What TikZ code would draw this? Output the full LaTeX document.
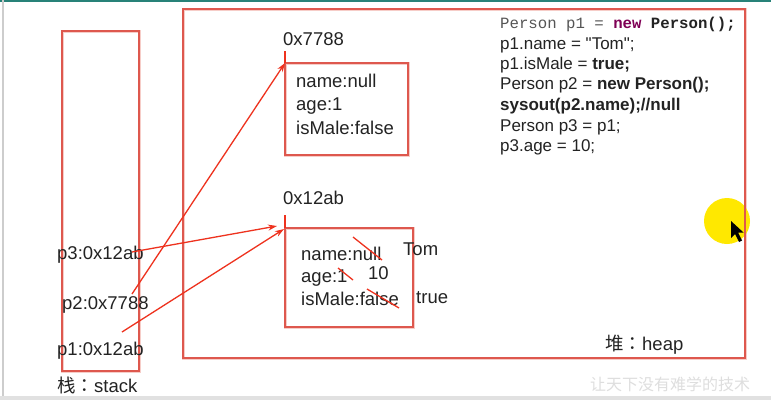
\documentclass[tikz,border=0pt]{standalone}
\usepackage{fontspec}
\setmainfont{Liberation Sans}
\newfontfamily\cjkfont{Noto Sans CJK SC}
\newfontfamily\cjkpunct{Noto Sans CJK JP}
\newfontfamily\codemono{Liberation Mono}
\usetikzlibrary{arrows.meta}
\definecolor{boxred}{RGB}{222,88,78}
\definecolor{boxglow}{RGB}{246,205,200}
\definecolor{arrowred}{RGB}{238,50,30}
\definecolor{ink}{RGB}{35,35,35}
\definecolor{codegray}{RGB}{85,85,85}
\definecolor{keyword}{RGB}{127,0,85}
\definecolor{marker}{RGB}{255,232,0}
\definecolor{framegray}{RGB}{205,205,205}
\definecolor{frameteal}{RGB}{40,130,120}
\definecolor{watermark}{RGB}{222,222,222}
\tikzset{
  region/.style={draw=boxglow, line width=3pt, postaction={draw=boxred, line width=1.2pt}},
  label/.style={inner sep=0pt, anchor=base west, text=ink, font=\fontsize{18.5}{20}\selectfont},
  codeline/.style={inner sep=0pt, anchor=base west, text=ink, font=\fontsize{17}{19}\selectfont},
  ref/.style={draw=arrowred, line width=1.3pt, -{Stealth[length=9pt,width=6pt]}},
  tick/.style={draw=arrowred, line width=1.2pt},
  strike/.style={draw=arrowred, line width=1.3pt},
}
\begin{document}
\begin{tikzpicture}[x=1pt,y=-1pt]
  \useasboundingbox (0,0) rectangle (771,400);
  \fill[white] (0,0) rectangle (771,400);
  % screen frame
  \fill[frameteal] (0,0) rectangle (771,1.5);
  \fill[framegray] (2,0) rectangle (3.5,400);
  \fill[framegray!60] (0,396) rectangle (771,400);

  % stack and heap areas
  \draw[region] (62,31) rectangle (139,371);
  \draw[region] (183,9) rectangle (745,358);
  \node[label] (stacklbl) at (57,392) {{\cjkfont 栈}{\cjkpunct ：}stack};
  \node[label] (heaplbl) at (605,350) {{\cjkfont 堆}{\cjkpunct ：}heap};

  % object at 0x7788
  \draw[region] (285,63) rectangle (408,155);
  \coordinate (obja) at (285,63);
  \draw[tick] (obja) -- ++(0,-12);
  \node[label] (addra) at (283,45) {0x7788};
  \node[label] (aname) at (296,87) {name:null};
  \node[label] (aage) at (296,110) {age:1};
  \node[label] (amale) at (296,134) {isMale:false};

  % object at 0x12ab
  \draw[region] (285,228) rectangle (413,327);
  \coordinate (objb) at (285,228);
  \draw[tick] (objb) -- ++(0,-13);
  \node[label] (addrb) at (283,204) {0x12ab};
  \node[label] (bname) at (301,260) {name:null};
  \node[label] (bage) at (301,282) {age:1};
  \node[label] (bmale) at (301,305) {isMale:false};
  \draw[strike] (353,237) -- (382,260);
  \draw[strike] (338,268) -- (353,280);
  \draw[strike] (367,289) -- (399,308);
  \node[label] (newname) at (403,255) {Tom};
  \node[label] (newage) at (368,279) {10};
  \node[label] (newmale) at (416,303) {true};

  % stack variables
  \node[label] (p3) at (57,259) {p3:0x12ab};
  \node[label] (p2) at (62,309) {p2:0x7788};
  \node[label] (p1) at (57,355) {p1:0x12ab};
  \coordinate (p3out) at (132,252);
  \coordinate (p2out) at (132,294);
  \coordinate (p1out) at (122,332);
  \coordinate (p3in) at (277,226);
  \coordinate (p1in) at (284,229);

  % references
  \draw[ref] (p3out) -- (p3in);
  \draw[ref] (p2out) -- (obja);
  \draw[ref] (p1out) -- (p1in);

  % code
  \node[inner sep=0pt, anchor=base west, font=\fontsize{15.7}{18}\codemono] (c1) at (500,28)
    {\textcolor{codegray}{Person p1 = }\textcolor{keyword}{\bfseries new}\textcolor{ink}{\bfseries\ Person();}};
  \node[codeline] (c2) at (500,49) {p1.name = \textquotedbl Tom\textquotedbl;};
  \node[codeline] (c3) at (500,69) {p1.isMale = \textbf{true;}};
  \node[codeline] (c4) at (500,89) {Person p2 = \textbf{new Person();}};
  \node[codeline] (c5) at (500,110) {\textbf{sysout(p2.name);//null}};
  \node[codeline] (c6) at (500,131) {Person p3 = p1;};
  \node[codeline] (c7) at (500,151) {p3.age = 10;};

  % pointer highlight
  \fill[marker] (727,221) circle (23);
  \draw[boxred, line width=1.2pt] (745,196) -- (745,246);
  \fill[black] (731,221) -- (731,238) -- (735,234) -- (739,242) -- (742,240.5) -- (738,232.5) -- (743.5,232.5) -- cycle;

  % watermark
  \node[inner sep=0pt, anchor=base west, text=watermark, font=\fontsize{16}{18}\cjkfont] (wm) at (590,390) {让天下没有难学的技术};
\end{tikzpicture}
\end{document}
